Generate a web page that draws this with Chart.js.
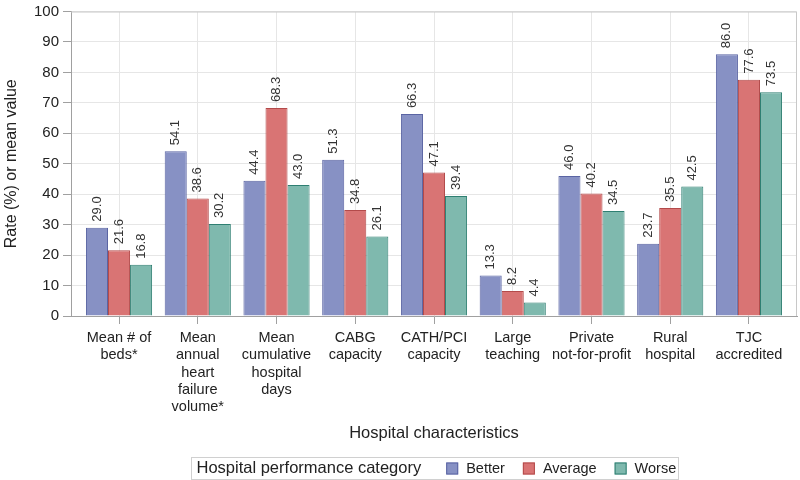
<!DOCTYPE html>
<html>
<head>
<meta charset="utf-8">
<script src="https://cdn.jsdelivr.net/npm/chart.js@4/dist/chart.umd.min.js"></script>
<style>
  html, body { margin: 0; padding: 0; background: #fff; }
  #wrap { width: 800px; height: 480px; }
</style>
</head>
<body>
<div id="wrap"><canvas id="chart" width="800" height="480"></canvas></div>
<script>
var categories = [
  ["Mean # of", "beds*"],
  ["Mean", "annual", "heart", "failure", "volume*"],
  ["Mean", "cumulative", "hospital", "days"],
  ["CABG", "capacity"],
  ["CATH/PCI", "capacity"],
  ["Large", "teaching"],
  ["Private", "not-for-profit"],
  ["Rural", "hospital"],
  ["TJC", "accredited"]
];
var better  = [29.0, 54.1, 44.4, 51.3, 66.3, 13.3, 46.0, 23.7, 86.0];
var average = [21.6, 38.6, 68.3, 34.8, 47.1, 8.2, 40.2, 35.5, 77.6];
var worse   = [16.8, 30.2, 43.0, 26.1, 39.4, 4.4, 34.5, 42.5, 73.5];
var seriesNames = ["Better", "Average", "Worse"];
var legendTitle = "Hospital performance category";
var xTitle = "Hospital characteristics";
var yTitle = "Rate (%) or mean value";

var FONT = "'Liberation Sans', Arial, Helvetica, sans-serif";

// value labels, rotated, above each bar
var barLabels = {
  id: "barLabels",
  afterDatasetsDraw: function(chart) {
    var ctx = chart.ctx;
    ctx.save();
    ctx.font = "13px " + FONT;
    ctx.fillStyle = "#333";
    ctx.textAlign = "left";
    ctx.textBaseline = "middle";
    chart.data.datasets.forEach(function(ds, i) {
      var meta = chart.getDatasetMeta(i);
      meta.data.forEach(function(bar, j) {
        ctx.save();
        ctx.translate(bar.x, bar.y - 6);
        ctx.rotate(-Math.PI / 2);
        ctx.fillText(ds.data[j].toFixed(1), 0, 0);
        ctx.restore();
      });
    });
    ctx.restore();
  }
};

// plot frame + legend box at the bottom
var frameLegend = {
  id: "frameLegend",
  afterDraw: function(chart) {
    var ctx = chart.ctx, a = chart.chartArea;
    ctx.save();
    ctx.strokeStyle = "#c8c8c8";
    ctx.lineWidth = 1;
    ctx.beginPath();
    ctx.moveTo(a.left, a.top + 0.5);
    ctx.lineTo(a.right - 0.5, a.top + 0.5);
    ctx.lineTo(a.right - 0.5, a.bottom);
    ctx.stroke();

    // legend
    var sw = 12, gap = 8, itemGap = 18, titleGap = 25, padX = 5;
    var x0 = 191.5, y0 = 457.5, h = 22, w = 487;
    ctx.strokeStyle = "#d0d0d0";
    ctx.strokeRect(x0, y0, w, h);
    var cy = y0 + h / 2;
    var x = x0 + padX;
    ctx.textBaseline = "middle";
    ctx.textAlign = "left";
    ctx.fillStyle = "#222";
    ctx.font = "16.5px " + FONT;
    ctx.fillText(legendTitle, x, cy);
    x += ctx.measureText(legendTitle).width + titleGap;
    ctx.font = "14.5px " + FONT;
    chart.data.datasets.forEach(function(d) {
      ctx.fillStyle = d.backgroundColor;
      ctx.fillRect(x, cy - sw / 2, sw, sw);
      ctx.strokeStyle = d.borderColor;
      ctx.strokeRect(x + 0.5, cy - sw / 2 + 0.5, sw - 1, sw - 1);
      x += sw + gap;
      ctx.fillStyle = "#222";
      ctx.fillText(d.label, x, cy);
      x += ctx.measureText(d.label).width + itemGap;
    });
    ctx.restore();
  }
};

var colors = [
  { bg: "#8791c4", bd: "#5a64a3" },
  { bg: "#d97474", bd: "#b34a4a" },
  { bg: "#7fb9ae", bd: "#2f7f72" }
];
var values = [better, average, worse];

var datasets = values.map(function(v, i) {
  return {
    label: seriesNames[i],
    data: v,
    backgroundColor: colors[i].bg,
    borderColor: colors[i].bd,
    borderWidth: 1,
    categoryPercentage: 0.84,
    barPercentage: 1.0
  };
});

new Chart(document.getElementById("chart"), {
  type: "bar",
  data: { labels: categories, datasets: datasets },
  options: {
    responsive: false,
    animation: false,
    layout: { padding: { top: 0, right: 3, bottom: 0, left: 0 } },
    plugins: {
      legend: { display: false },
      tooltip: { enabled: false }
    },
    scales: {
      x: {
        afterFit: function(s) { s.height = 164; },
        // a little extra room at both ends of the category axis
        afterBuildTicks: function(s) {
          var extra = 0.11;
          s._startValue = s.min - 0.5 - extra;
          s._valueRange = (s.max - s.min + 1) + 2 * extra;
        },
        grid: { color: "#e6e6e6", offset: false, drawTicks: true, tickLength: 8, tickColor: "#a0a0a0" },
        border: { color: "#a0a0a0" },
        ticks: { color: "#222", font: { family: FONT, size: 14.5, lineHeight: 1.2 }, maxRotation: 0, autoSkip: false, padding: 5 },
        title: { display: true, text: xTitle, color: "#222", font: { family: FONT, size: 16.5 }, padding: { top: 0, bottom: 37 } }
      },
      y: {
        afterFit: function(s) { s.width = 71; },
        min: 0,
        max: 100,
        ticks: { stepSize: 10, color: "#222", font: { family: FONT, size: 15, lineHeight: 1.0 }, padding: 4 },
        grid: { color: "#e6e6e6", tickLength: 8, tickColor: "#a0a0a0" },
        border: { color: "#a0a0a0" },
        title: { display: true, text: yTitle, color: "#222", font: { family: FONT, size: 16 }, padding: { top: 2, bottom: 0 } }
      }
    }
  },
  plugins: [barLabels, frameLegend]
});
</script>
</body>
</html>
